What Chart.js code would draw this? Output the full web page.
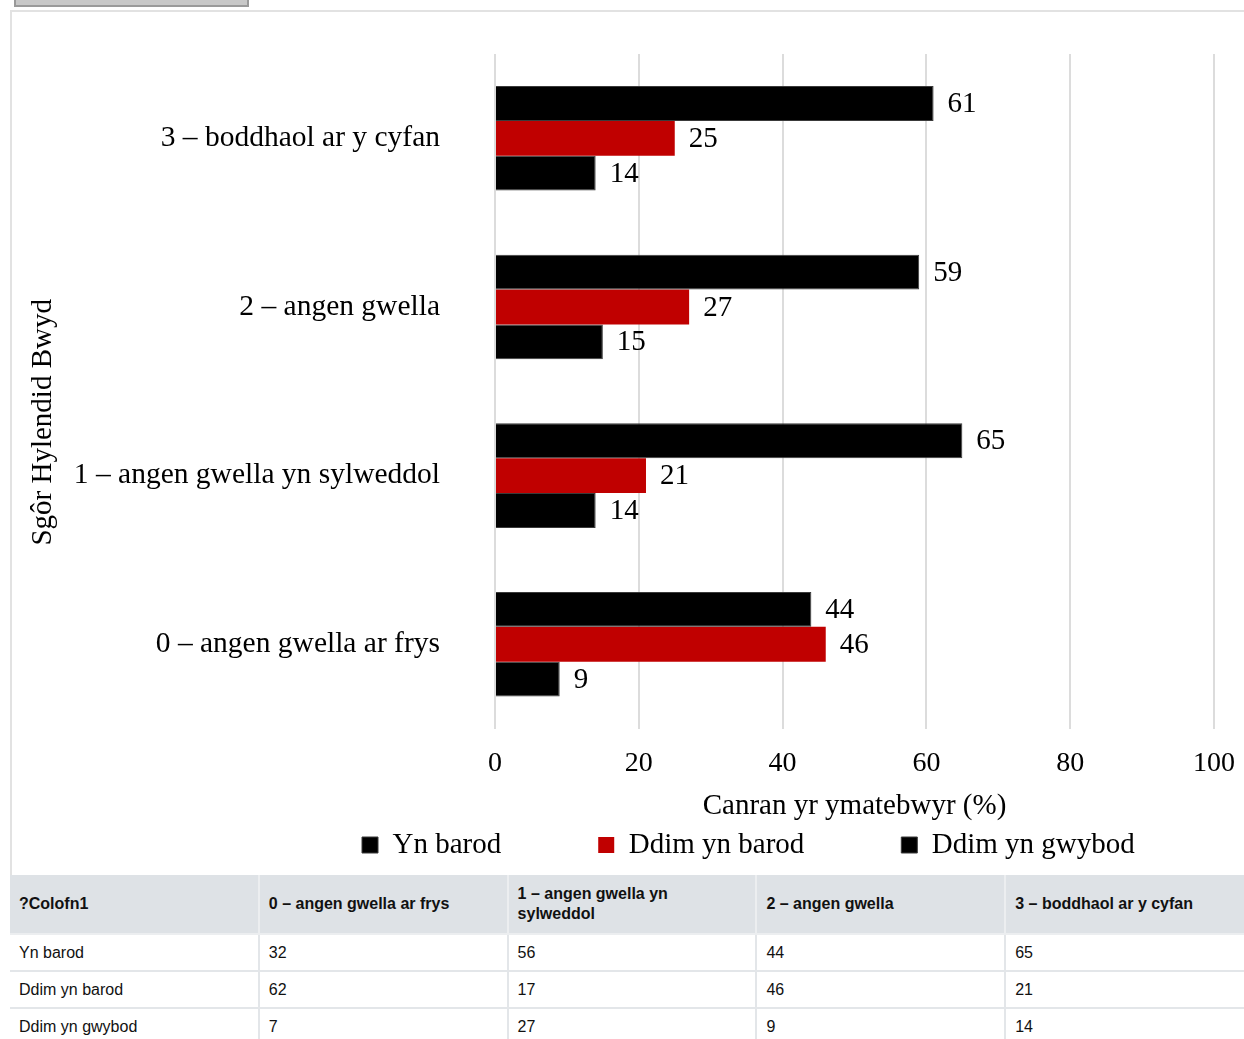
<!DOCTYPE html>
<html>
<head>
<meta charset="utf-8">
<script src="https://cdn.jsdelivr.net/npm/chart.js@4/dist/chart.umd.min.js"></script>
<style>
  html, body { margin: 0; padding: 0; background: #fff; }
  body { width: 1244px; height: 1039px; overflow: hidden; position: relative; }
  .btn { position: absolute; left: 14px; top: -30px; width: 231px; height: 33px; background: #c8c8c8; border: 2px solid #9a9a9a; }
  .box { position: absolute; left: 10px; top: 10px; width: 1280px; height: 863px; border-top: 2px solid #e2e2e2; border-left: 2px solid #e2e2e2; border-bottom: 1px solid #e2e2e2; }
  canvas { display: block; }
  table { position: absolute; left: 10px; top: 875px; width: 1245px; border-collapse: collapse; table-layout: fixed;
          font-family: "Liberation Sans", Arial, sans-serif; font-size: 16px; line-height: 20px; color: #111; }
  th { background: #dee2e6; text-align: left; font-weight: bold; padding: 9px 11px 9px 9px; border: 2px solid #eceef0; border-top: none; vertical-align: middle; }
  td { padding: 8px 9px 7px 9px; border: 2px solid #e3e6e9; }
  tr td:first-child, tr th:first-child { border-left: none; }
</style>
</head>
<body>
<div class="btn"></div>
<div class="box"><canvas id="c" width="1232" height="862"></canvas></div>
<table id="tbl"></table>
<script>
// ---- chart data ----
const categories = ["3 – boddhaol ar y cyfan", "2 – angen gwella", "1 – angen gwella yn sylweddol", "0 – angen gwella ar frys"];
const seriesNames = ["Yn barod", "Ddim yn barod", "Ddim yn gwybod"];
const ynBarod = [61, 59, 65, 44];
const ddimYnBarod = [25, 27, 21, 46];
const ddimYnGwybod = [14, 15, 14, 9];
const xTicks = [0, 20, 40, 60, 80, 100];
const xTitle = "Canran yr ymatebwyr (%)";
const yTitle = "Sgôr Hylendid Bwyd";

// ---- table data ----
const tableHeader = ["?Colofn1", "0 – angen gwella ar frys", "1 – angen gwella yn sylweddol", "2 – angen gwella", "3 – boddhaol ar y cyfan"];
const tableRowNames = ["Yn barod", "Ddim yn barod", "Ddim yn gwybod"];
const tableYnBarod = [32, 56, 44, 65];
const tableDdimYnBarod = [62, 17, 46, 21];
const tableDdimYnGwybod = [7, 27, 9, 14];

// build table
(function () {
  const t = document.getElementById('tbl');
  const thead = document.createElement('thead');
  const hr = document.createElement('tr');
  tableHeader.forEach(h => { const th = document.createElement('th'); th.textContent = h; hr.appendChild(th); });
  thead.appendChild(hr); t.appendChild(thead);
  const tbody = document.createElement('tbody');
  [tableYnBarod, tableDdimYnBarod, tableDdimYnGwybod].forEach((vals, i) => {
    const tr = document.createElement('tr');
    const first = document.createElement('td'); first.textContent = tableRowNames[i]; tr.appendChild(first);
    vals.forEach(v => { const td = document.createElement('td'); td.textContent = String(v); tr.appendChild(td); });
    tbody.appendChild(tr);
  });
  t.appendChild(tbody);
})();

const SERIF = "'Liberation Serif', 'Times New Roman', serif";
const LEGEND_PAD = 97;

const valueLabels = {
  id: 'valueLabels',
  afterDatasetsDraw(chart) {
    const ctx = chart.ctx;
    ctx.save();
    ctx.font = '29px ' + SERIF;
    ctx.fillStyle = '#000';
    ctx.textAlign = 'left';
    ctx.textBaseline = 'middle';
    chart.data.datasets.forEach((ds, di) => {
      const meta = chart.getDatasetMeta(di);
      meta.data.forEach((el, i) => {
        ctx.fillText(String(ds.data[i]), el.x + 14, el.y + 1);
      });
    });
    ctx.restore();
  }
};

const placement = {
  id: 'placement',
  afterLayout(chart) {
    const lg = chart.legend;
    if (lg) {
      lg.left = 350 - LEGEND_PAD; lg.right = chart.width;
      lg.top = 833 - LEGEND_PAD - 14.5; lg.bottom = chart.height;
    }
    const ys = chart.scales.y;
    if (ys && !ys.__shifted) {
      const orig = ys.drawTitle;
      ys.drawTitle = function () {
        const c = this.ctx; c.save(); c.translate(0, 31); orig.apply(this, arguments); c.restore();
      };
      ys.__shifted = true;
    }
  }
};

new Chart(document.getElementById('c'), {
  type: 'bar',
  data: {
    labels: categories,
    datasets: [
      { label: seriesNames[0], data: ynBarod, backgroundColor: '#000000', borderColor: '#3a3a3a', borderWidth: 1 },
      { label: seriesNames[1], data: ddimYnBarod, backgroundColor: '#c00000', borderColor: '#c00000', borderWidth: 0 },
      { label: seriesNames[2], data: ddimYnGwybod, backgroundColor: '#000000', borderColor: '#3a3a3a', borderWidth: 1 }
    ]
  },
  options: {
    indexAxis: 'y',
    responsive: false,
    animation: false,
    layout: { padding: { top: 42, right: 30, bottom: 1, left: 0 } },
    datasets: { bar: { barPercentage: 1.0, categoryPercentage: 0.62 } },
    scales: {
      x: {
        min: 0, max: 100,
        afterBuildTicks(scale) { scale.ticks = xTicks.map(v => ({ value: v })); },
        afterFit(scale) { scale.paddingLeft = 0; scale.paddingRight = 0; },
        grid: { color: '#dcdcdc', lineWidth: 2, drawTicks: false },
        border: { display: false },
        ticks: { color: '#000', font: { family: SERIF, size: 28 }, padding: 18 },
        title: { display: true, text: xTitle, color: '#000', font: { family: SERIF, size: 29 }, padding: { top: -9, bottom: 0 } }
      },
      y: {
        afterFit(scale) { scale.width = 483; scale.paddingTop = 0; scale.paddingBottom = 0; },
        grid: { display: false, drawTicks: false },
        border: { display: false },
        ticks: { color: '#000', font: { family: SERIF, size: 29.5 }, padding: 55 },
        title: { display: true, text: yTitle, color: '#000', font: { family: SERIF, size: 29 }, padding: { top: 14, bottom: 0 } }
      }
    },
    plugins: {
      legend: {
        position: 'bottom',
        align: 'start',
        maxHeight: 49,
        labels: {
          color: '#000',
          font: { family: SERIF, size: 29 },
          boxWidth: 16, boxHeight: 16,
          padding: LEGEND_PAD
        }
      },
      tooltip: { enabled: false }
    }
  },
  plugins: [valueLabels, placement]
});
</script>
</body>
</html>
